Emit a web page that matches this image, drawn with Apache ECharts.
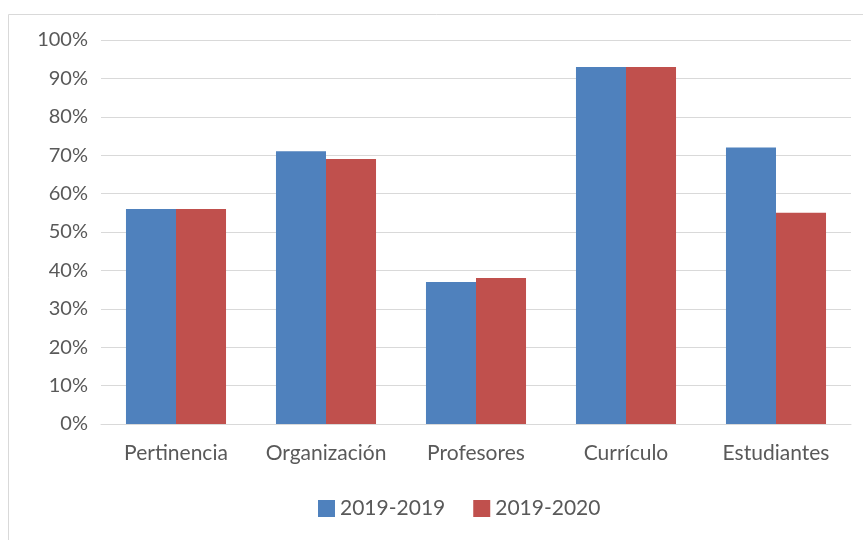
<!DOCTYPE html>
<html>
<head>
<meta charset="utf-8">
<script src="https://cdn.jsdelivr.net/npm/echarts@6/dist/echarts.min.js"></script>
<style>
	html,body{margin:0;padding:0;background:#fff}
	#main{width:863px;height:540px}
</style>
</head>
<body>
<div id="main"></div>
<script>
var categories = ['Pertinencia', 'Organización', 'Profesores', 'Currículo', 'Estudiantes'];
var serie2019 = [56, 71, 37, 93, 72];
var serie2020 = [56, 69, 38, 93, 55];
var seriesNames = ['2019-2019', '2019-2020'];

var myChart = echarts.init(document.getElementById('main'));
var txt = '#595959';
var option = {
	animation: false,
	textStyle: {fontFamily: 'Lato'},
	graphic: [{
		type: 'rect',
		shape: {x: 8.5, y: 14.5, width: 900, height: 600},
		style: {fill: 'none', stroke: '#d9d9d9', lineWidth: 1},
		silent: true
	}],
	grid: {left: 101, right: 12, top: 40, bottom: 116},
	legend: {
		bottom: 16,
		left: 313,
		itemWidth: 17,
		itemHeight: 17,
		itemGap: 28,
		icon: 'rect',
		textStyle: {color: txt, fontSize: 21, fontFamily: 'Lato'},
		data: seriesNames
	},
	xAxis: {
		type: 'category',
		data: categories,
		axisLine: {show: true, lineStyle: {color: '#d9d9d9', width: 1}},
		axisTick: {show: false},
		axisLabel: {color: txt, fontSize: 21, margin: 19, interval: 0, fontFamily: 'Lato'}
	},
	yAxis: {
		type: 'value',
		min: 0,
		max: 100,
		interval: 10,
		axisLine: {show: false},
		axisTick: {show: false},
		splitLine: {lineStyle: {color: '#d9d9d9', width: 1}},
		axisLabel: {color: txt, fontSize: 20, margin: 13, fontFamily: 'Lato', formatter: '{value}%'}
	},
	series: [
		{
			name: seriesNames[0],
			type: 'bar',
			data: serie2019,
			barGap: '0%',
			barCategoryGap: '33.3%',
			itemStyle: {color: '#4f81bd'}
		},
		{
			name: seriesNames[1],
			type: 'bar',
			data: serie2020,
			itemStyle: {color: '#c0504d'}
		}
	]
};
myChart.setOption(option);
</script>
</body>
</html>
